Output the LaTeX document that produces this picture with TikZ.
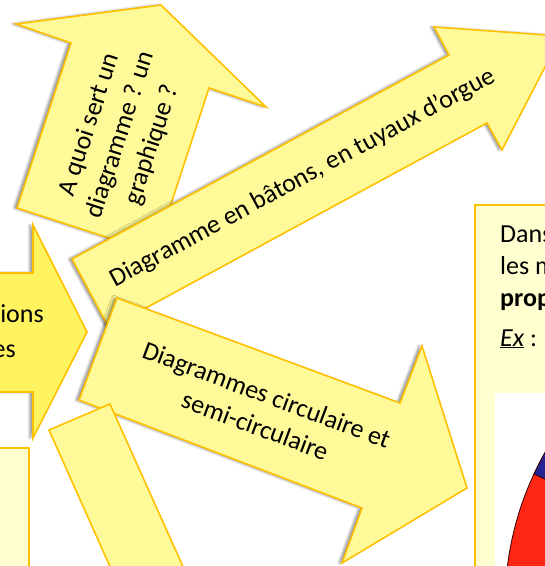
\documentclass[tikz,border=0pt]{standalone}
\usepackage{fontspec}
\setmainfont{Carlito}
\usepackage{xcolor}
\definecolor{myyellow}{RGB}{255,250,153}
\definecolor{mylemon}{RGB}{255,243,96}
\definecolor{mygold}{RGB}{255,192,0}
\definecolor{mycream}{RGB}{255,255,208}
\definecolor{myred}{RGB}{255,38,20}
\definecolor{mypieblue}{RGB}{35,35,150}
\usetikzlibrary{shadows.blur}

\begin{document}
\begin{tikzpicture}[x=1pt, y=-1pt, line join=miter,
	fleche/.style={fill=#1, draw=mygold, line width=1.6pt, blur shadow={shadow xshift=-3pt, shadow yshift=0pt, shadow blur radius=2.5pt, shadow opacity=45}},
	fleche/.default=myyellow,
	cadre/.style={fill=mycream, draw=mygold, line width=1.6pt},
	texte/.style={align=center, inner sep=0pt, font=\fontsize{26}{33}\selectfont}]
	\useasboundingbox (0,0) rectangle (545,566);
	\clip (0,0) rectangle (545,566);
	% fleches
	\draw[fleche=mylemon] (-10,273) -- (33,273) -- (33,225) -- (87,332) -- (33,438) -- (33,392) -- (-10,392) -- cycle;
	\node[texte, anchor=base east] (ions) at (44,322) {ions};
	\node[texte, anchor=base east] (es) at (16,357) {es};
	\draw[fleche] (17,208) -- (71,43) -- (16,24) -- (161,5) -- (266,107) -- (209,88) -- (155,253) -- cycle;
	\node[texte, rotate=72] (quoi) at (121,135) {A quoi sert un\\diagramme ? un\\graphique ?};
	\draw[fleche] (72,259) -- (449,55) -- (434,27) -- (561,36) -- (502,150) -- (487,123) -- (109,328) -- cycle;
	\node[texte, rotate=28.4] (batons) at (303,178) {Diagramme en bâtons, en tuyaux d’orgue};
	\draw[fleche] (117,298) -- (400,403) -- (422,346) -- (467,488) -- (342,563) -- (362,508) -- (79,400) -- cycle;
	\node[texte, rotate=-20.4] (circ) at (261,410) {Diagrammes circulaire et\\semi-circulaire};
	\draw[fill=myyellow, draw=mygold, line width=1.6pt] (49,430) -- (110,404) -- (189,580) -- (116,580) -- cycle;
	% cadres
	\draw[cadre] (-10,448) rectangle (29,580);
	\draw[cadre] (475,205) rectangle (560,580);
	\node[texte, anchor=base west] (dans) at (500,242) {Dans};
	\node[texte, anchor=base west] (lesm) at (500,274) {les m};
	\node[texte, anchor=base west] (prop) at (500,306) {\textbf{prop}};
	\node[texte, anchor=base west] (ex) at (500,346) {\underline{\textit{Ex}} :};
	\fill[white] (495,393) rectangle (560,580);
	\begin{scope}
		\clip (495,393) rectangle (560,580);
		\filldraw[fill=myred, draw=black!80!red, line width=0.8pt] (815,605) circle (310);
		\filldraw[fill=mypieblue, draw=black!80!red, line width=0.8pt] (815,605) -- ++(205:310) arc (205:270:310) -- cycle;
	\end{scope}
\end{tikzpicture}
\end{document}
